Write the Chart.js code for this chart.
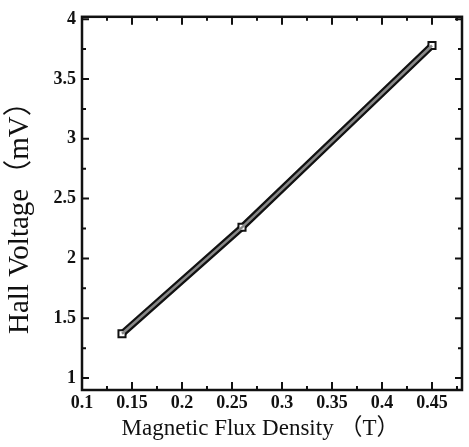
<!DOCTYPE html>
<html>
<head>
<meta charset="utf-8">
<script src="https://cdn.jsdelivr.net/npm/chart.js@4"></script>
<style>
  html, body { margin: 0; padding: 0; background: #fff; }
  #wrap { width: 469px; height: 447px; }
</style>
</head>
<body>
<div id="wrap"><canvas id="chart" width="469" height="447"></canvas></div>
<script>
// Datos
const fluxDensity = [0.14, 0.26, 0.45];
const hallVoltage = [1.37, 2.26, 3.78];
const xTicks = [0.1, 0.15, 0.2, 0.25, 0.3, 0.35, 0.4, 0.45];
const yTicks = [1, 1.5, 2, 2.5, 3, 3.5, 4];
// espacios finales para desplazar el título como en el original
const xTitle = 'Magnetic Flux Density （T）\u3000\u2002';
const yTitle = 'Hall Voltage（mV）\u3000';

const points = fluxDensity.map((x, i) => ({ x: x, y: hallVoltage[i] }));

// Marco y marcas hacia dentro
const framePlugin = {
    id: 'frame',
    afterDraw(chart) {
        const { ctx, chartArea: a, scales } = chart;
        const xs = scales.x, ys = scales.y;
        ctx.save();
        ctx.strokeStyle = '#111';
        ctx.lineWidth = 2.5;
        ctx.strokeRect(a.left, a.top, a.right - a.left, a.bottom - a.top);
        ctx.lineWidth = 2;
        const xMarks = [];
        xTicks.forEach(v => { xMarks.push([v, 8]); xMarks.push([v + 0.025, 4]); });
        xMarks.forEach(([v, len]) => {
            const px = xs.getPixelForValue(v);
            if (px < a.left + 1 || px > a.right - 1) return;
            ctx.beginPath();
            ctx.moveTo(px, a.bottom); ctx.lineTo(px, a.bottom - len);
            ctx.moveTo(px, a.top); ctx.lineTo(px, a.top + len);
            ctx.stroke();
        });
        const yMarks = [];
        yTicks.forEach(v => { yMarks.push([v, 7]); yMarks.push([v - 0.25, 4]); });
        yMarks.forEach(([v, len]) => {
            const py = ys.getPixelForValue(v);
            if (py < a.top + 1 || py > a.bottom - 1) return;
            ctx.beginPath();
            ctx.moveTo(a.left, py); ctx.lineTo(a.left + len, py);
            ctx.moveTo(a.right, py); ctx.lineTo(a.right - len, py);
            ctx.stroke();
        });
        ctx.restore();
    }
};

const ctx = document.getElementById('chart').getContext('2d');
new Chart(ctx, {
    type: 'scatter',
    data: {
        datasets: [{
            data: points,
            showLine: true,
            borderColor: '#111',
            borderWidth: 7,
            pointStyle: 'rect',
            pointRadius: 5,
            pointBackgroundColor: '#fff',
            pointBorderColor: '#111',
            pointBorderWidth: 2,
            order: 2
        }, {
            data: points,
            showLine: true,
            borderColor: '#888',
            borderWidth: 2.5,
            pointRadius: 0,
            order: 1
        }]
    },
    options: {
        responsive: false,
        animation: false,
        layout: { padding: { top: 13, right: 4, left: 0, bottom: 0 } },
        plugins: { legend: { display: false }, tooltip: { enabled: false } },
        scales: {
            x: {
                type: 'linear',
                min: 0.1,
                max: 0.48,
                afterBuildTicks: s => { s.ticks = xTicks.map(v => ({ value: v })); },
                afterFit: s => { s.height = 57; },
                grid: { display: false, drawTicks: false },
                border: { display: false },
                ticks: {
                    color: '#111',
                    padding: 3,
                    font: { family: 'Liberation Serif', size: 18, weight: 'bold' },
                    callback: v => String(Math.round(v * 100) / 100)
                },
                title: {
                    display: true,
                    text: xTitle,
                    color: '#111',
                    padding: { top: 0, bottom: 4 },
                    font: { family: 'Liberation Serif, Noto Sans CJK SC', size: 23 }
                }
            },
            y: {
                type: 'linear',
                min: 0.9,
                max: 4.02,
                afterBuildTicks: s => { s.ticks = yTicks.map(v => ({ value: v })); },
                afterFit: s => { s.width = 82; },
                grid: { display: false, drawTicks: false },
                border: { display: false },
                ticks: {
                    color: '#111',
                    padding: 6,
                    font: { family: 'Liberation Serif', size: 18, weight: 'bold' },
                    callback: v => String(v)
                },
                title: {
                    display: true,
                    text: yTitle,
                    color: '#111',
                    padding: { top: 3, bottom: 0 },
                    font: { family: 'Liberation Serif, Noto Sans CJK SC', size: 29 }
                }
            }
        }
    },
    plugins: [framePlugin]
});
</script>
</body>
</html>
